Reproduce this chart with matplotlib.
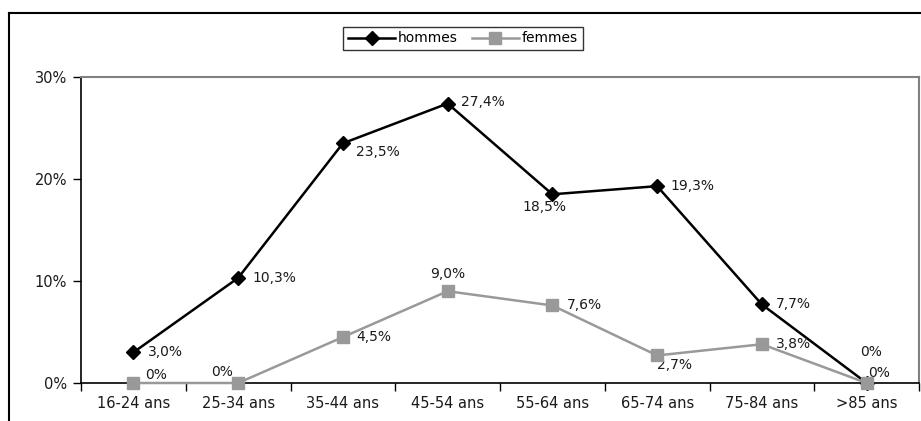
import matplotlib
matplotlib.use("Agg")
import matplotlib.pyplot as plt
from matplotlib.lines import Line2D
from matplotlib.ticker import FixedLocator, NullFormatter

categories = ["16-24 ans", "25-34 ans", "35-44 ans", "45-54 ans",
              "55-64 ans", "65-74 ans", "75-84 ans", ">85 ans"]
hommes = [3.0, 10.3, 23.5, 27.4, 18.5, 19.3, 7.7, 0.0]
femmes = [0.0, 0.0, 4.5, 9.0, 7.6, 2.7, 3.8, 0.0]
hommes_labels = ["3,0%", "10,3%", "23,5%", "27,4%", "18,5%", "19,3%", "7,7%", "0%"]
femmes_labels = ["0%", "0%", "4,5%", "9,0%", "7,6%", "2,7%", "3,8%", "0%"]
yticks = [0, 10, 20, 30]
ytick_labels = ["0%", "10%", "20%", "30%"]

# label offsets in pixels (dx, dy, ha)
h_off = [(15, 0, "left"), (14, 0, "left"), (13, -9, "left"), (13, 2, "left"),
         (-8, -13, "center"), (13, 0, "left"), (14, 0, "left"), (4, 31, "center")]
f_off = [(12, 8, "left"), (-16, 11, "center"), (13, 0, "left"), (0, 17, "center"),
         (14, 0, "left"), (0, -10, "left"), (14, 0, "left"), (1, 10, "left")]

W, H = 921, 421
fig = plt.figure(figsize=(W / 100, H / 100), dpi=100)
plt.rcParams["font.family"] = "DejaVu Sans"

ax = fig.add_axes([81 / W, 1 - 383 / H, 838 / W, 306 / H])
x = list(range(len(categories)))

ax.plot(x, hommes, color="black", linewidth=1.8, marker="D", markersize=7,
        markerfacecolor="black", markeredgecolor="black", label="hommes",
        zorder=3, clip_on=False)
ax.plot(x, femmes, color="#999999", linewidth=1.8, marker="s", markersize=8,
        markerfacecolor="#999999", markeredgecolor="#999999", label="femmes",
        zorder=4, clip_on=False)

for i in x:
    dx, dy, ha = h_off[i]
    ax.annotate(hommes_labels[i], (i, hommes[i]), xytext=(dx, dy),
                textcoords="offset pixels", ha=ha, va="center", fontsize=10,
                color="#1a1a1a", annotation_clip=False)
    dx, dy, ha = f_off[i]
    ax.annotate(femmes_labels[i], (i, femmes[i]), xytext=(dx, dy),
                textcoords="offset pixels", ha=ha, va="center", fontsize=10,
                color="#1a1a1a", annotation_clip=False)

ax.set_xlim(-0.5, len(categories) - 0.5)
ax.set_ylim(0, 30)

ax.xaxis.set_major_locator(FixedLocator([i - 0.5 for i in range(len(categories) + 1)]))
ax.xaxis.set_major_formatter(NullFormatter())
ax.xaxis.set_minor_locator(FixedLocator(x))
ax.set_xticklabels(categories, minor=True, fontsize=10.5, color="#1a1a1a")
ax.tick_params(axis="x", which="major", direction="out", length=6, width=1, color="black")
ax.tick_params(axis="x", which="minor", length=0, pad=9)

ax.set_yticks(yticks)
ax.set_yticklabels(ytick_labels, fontsize=10.5, color="#1a1a1a")
ax.tick_params(axis="y", direction="out", length=6, width=1, color="black", pad=4)

ax.spines["left"].set_color("black")
ax.spines["bottom"].set_color("black")
ax.spines["left"].set_linewidth(1.2)
ax.spines["bottom"].set_linewidth(1.2)
ax.spines["top"].set_color("#808080")
ax.spines["right"].set_color("#808080")
ax.spines["top"].set_linewidth(1.5)
ax.spines["right"].set_linewidth(1.5)

leg = ax.legend(loc="center", bbox_to_anchor=(463 / W, 1 - 38.5 / H),
                bbox_transform=fig.transFigure, ncol=2, frameon=True,
                fancybox=False, edgecolor="black", fontsize=10,
                handlelength=3.4, handletextpad=0.2, columnspacing=1.0,
                borderpad=0.35, borderaxespad=0)
leg.get_frame().set_linewidth(1.0)

# outer chart frame (clipped by image edges)
fig.add_artist(Line2D([9 / W, 1.0], [1 - 13 / H, 1 - 13 / H],
                      transform=fig.transFigure, color="black", linewidth=1.5))
fig.add_artist(Line2D([9 / W, 9 / W], [0.0, 1 - 13 / H],
                      transform=fig.transFigure, color="black", linewidth=1.5))

fig.savefig("out.png", dpi=100)
